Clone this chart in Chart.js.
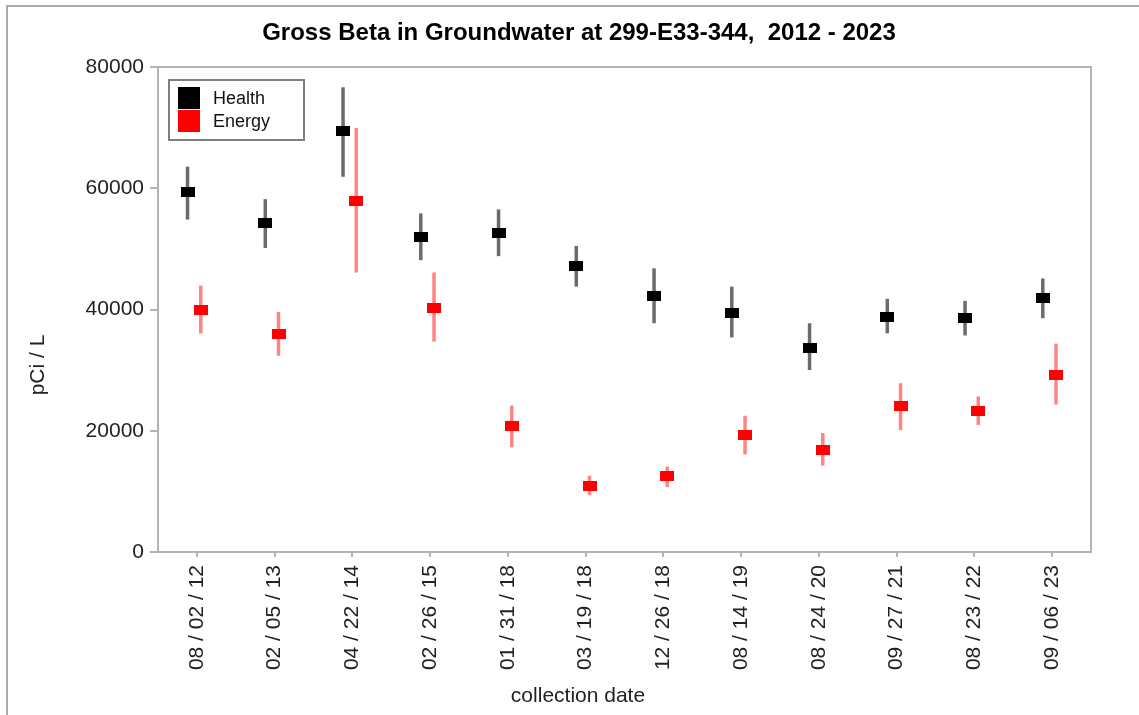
<!DOCTYPE html>
<html>
<head>
<meta charset="utf-8">
<script src="https://cdn.jsdelivr.net/npm/chart.js@4.4.1/dist/chart.umd.min.js"></script>
<style>
  html, body { margin: 0; padding: 0; background: #fff; }
  #wrap { width: 1139px; height: 715px; position: relative; }
</style>
</head>
<body>
<div id="wrap"><canvas id="betaChart" width="1139" height="715"></canvas></div>
<script>
const dates = ['08 / 02 / 12', '02 / 05 / 13', '04 / 22 / 14', '02 / 26 / 15', '01 / 31 / 18', '03 / 19 / 18',
               '12 / 26 / 18', '08 / 14 / 19', '08 / 24 / 20', '09 / 27 / 21', '08 / 23 / 22', '09 / 06 / 23'];

const healthValues = [59370, 54340, 69430, 51990, 52660, 47120, 42260, 39410, 33710, 38740, 38570, 41930];
const healthLow    = [54840, 50150, 61890, 48130, 48800, 43770, 37730, 35390, 30020, 36060, 35720, 38570];
const healthHigh   = [63560, 58200, 76650, 55850, 56520, 50480, 46790, 43770, 37730, 41760, 41420, 45110];

const energyValues = [39910, 35890, 57940, 40250, 20800, 10900, 12580, 19290, 16770, 24150, 23310, 29180];
const energyLow    = [36060, 32370, 46120, 34710, 17270,  9390, 10730, 16100, 14250, 20120, 20960, 24320];
const energyHigh   = [43940, 39580, 69930, 46120, 24150, 12580, 14090, 22470, 19620, 27840, 25660, 34380];

const yTicks = [0, 20000, 40000, 60000, 80000];

const FONT = "'Liberation Sans', Arial, sans-serif";

// markers sit a little left (Health) / right (Energy) of the date tick
const HEALTH_SHIFT = -0.12;
const ENERGY_SHIFT = 0.05;

function markerImage(color) {
    const c = document.createElement('canvas');
    c.width = 14;
    c.height = 10;
    const ctx = c.getContext('2d');
    ctx.fillStyle = color;
    ctx.fillRect(0, 0, 14, 10);
    return c;
}

function toPoints(values, shift) {
    return values.map((v, i) => ({x: i + shift, y: v}));
}

// error bars, drawn under the markers
const errorBars = {
    id: 'errorBars',
    beforeDatasetsDraw(chart) {
        const ctx = chart.ctx;
        const yScale = chart.scales.y;
        chart.data.datasets.forEach((ds, di) => {
            const meta = chart.getDatasetMeta(di);
            ctx.save();
            ctx.strokeStyle = ds.errColor;
            ctx.lineWidth = 3.5;
            meta.data.forEach((pt, i) => {
                ctx.beginPath();
                ctx.moveTo(pt.x, yScale.getPixelForValue(ds.errLow[i]));
                ctx.lineTo(pt.x, yScale.getPixelForValue(ds.errHigh[i]));
                ctx.stroke();
            });
            ctx.restore();
        });
    }
};

// frame, plot box, titles and legend
const decorations = {
    id: 'decorations',
    beforeDraw(chart) {
        const ctx = chart.ctx;
        ctx.save();
        ctx.fillStyle = '#fff';
        ctx.fillRect(0, 0, chart.width, chart.height);
        ctx.strokeStyle = '#ababab';
        ctx.lineWidth = 2;
        ctx.beginPath();
        ctx.moveTo(7, chart.height);
        ctx.lineTo(7, 6);
        ctx.lineTo(chart.width, 6);
        ctx.stroke();
        ctx.restore();
    },
    afterDraw(chart) {
        const ctx = chart.ctx;
        const a = chart.chartArea;
        ctx.save();
        ctx.strokeStyle = '#b4b4b4';
        ctx.lineWidth = 2;
        ctx.strokeRect(a.left, a.top, a.right - a.left, a.bottom - a.top);

        ctx.fillStyle = '#000';
        ctx.font = 'bold 24px ' + FONT;
        ctx.textAlign = 'center';
        ctx.textBaseline = 'alphabetic';
        ctx.fillText('Gross Beta in Groundwater at 299-E33-344,  2012 - 2023', 579, 40);

        ctx.fillStyle = '#222';
        ctx.font = '21px ' + FONT;
        ctx.fillText('collection date', 578, 702);

        ctx.save();
        ctx.translate(38, 365);
        ctx.rotate(-Math.PI / 2);
        ctx.textBaseline = 'middle';
        ctx.fillText('pCi / L', 0, 0);
        ctx.restore();

        // legend
        ctx.strokeStyle = '#808080';
        ctx.lineWidth = 2;
        ctx.strokeRect(169, 80, 135, 60);
        ctx.font = '18px ' + FONT;
        ctx.textAlign = 'left';
        ctx.textBaseline = 'middle';
        chart.data.datasets.forEach((ds, i) => {
            const y = 98 + i * 23;
            ctx.fillStyle = ds.legendColor;
            ctx.fillRect(178, y - 11, 22, 22);
            ctx.fillStyle = '#111';
            ctx.fillText(ds.label, 213, y + 1);
        });
        ctx.restore();
    }
};

const betaData = {
    datasets: [{
        label: 'Health',
        data: toPoints(healthValues, HEALTH_SHIFT),
        errLow: healthLow,
        errHigh: healthHigh,
        errColor: '#6b6b6b',
        legendColor: '#000',
        pointStyle: markerImage('#000'),
        showLine: false
    }, {
        label: 'Energy',
        data: toPoints(energyValues, ENERGY_SHIFT),
        errLow: energyLow,
        errHigh: energyHigh,
        errColor: '#ff8585',
        legendColor: '#ff0000',
        pointStyle: markerImage('#ff0000'),
        showLine: false
    }]
};

const betaConfig = {
    type: 'scatter',
    data: betaData,
    plugins: [decorations, errorBars],
    options: {
        responsive: false,
        animation: false,
        layout: {
            padding: {top: 67, right: 48, left: 0, bottom: 0}
        },
        scales: {
            x: {
                type: 'linear',
                min: -0.5,
                max: dates.length - 0.5,
                afterBuildTicks: (scale) => {
                    scale.ticks = dates.map((d, i) => ({value: i}));
                },
                afterFit: (scale) => { scale.height = 163; },
                ticks: {
                    callback: (value) => dates[value],
                    minRotation: 90,
                    maxRotation: 90,
                    autoSkip: false,
                    padding: 8,
                    color: '#222',
                    font: {family: FONT, size: 21}
                },
                grid: {
                    drawOnChartArea: false,
                    tickLength: 5,
                    color: '#b4b4b4',
                    lineWidth: 2
                },
                border: {display: false}
            },
            y: {
                min: 0,
                max: 80000,
                afterBuildTicks: (scale) => {
                    scale.ticks = yTicks.map(v => ({value: v}));
                },
                afterFit: (scale) => { scale.width = 158; },
                ticks: {
                    callback: (value) => String(value),
                    padding: 6,
                    color: '#222',
                    font: {family: FONT, size: 21}
                },
                grid: {
                    drawOnChartArea: false,
                    tickLength: 8,
                    color: '#b4b4b4',
                    lineWidth: 2
                },
                border: {display: false}
            }
        },
        plugins: {
            legend: {display: false},
            title: {display: false},
            tooltip: {enabled: false}
        }
    }
};

const betaCanvas = document.getElementById('betaChart');
const betaChart = new Chart(betaCanvas, betaConfig);
</script>
</body>
</html>
